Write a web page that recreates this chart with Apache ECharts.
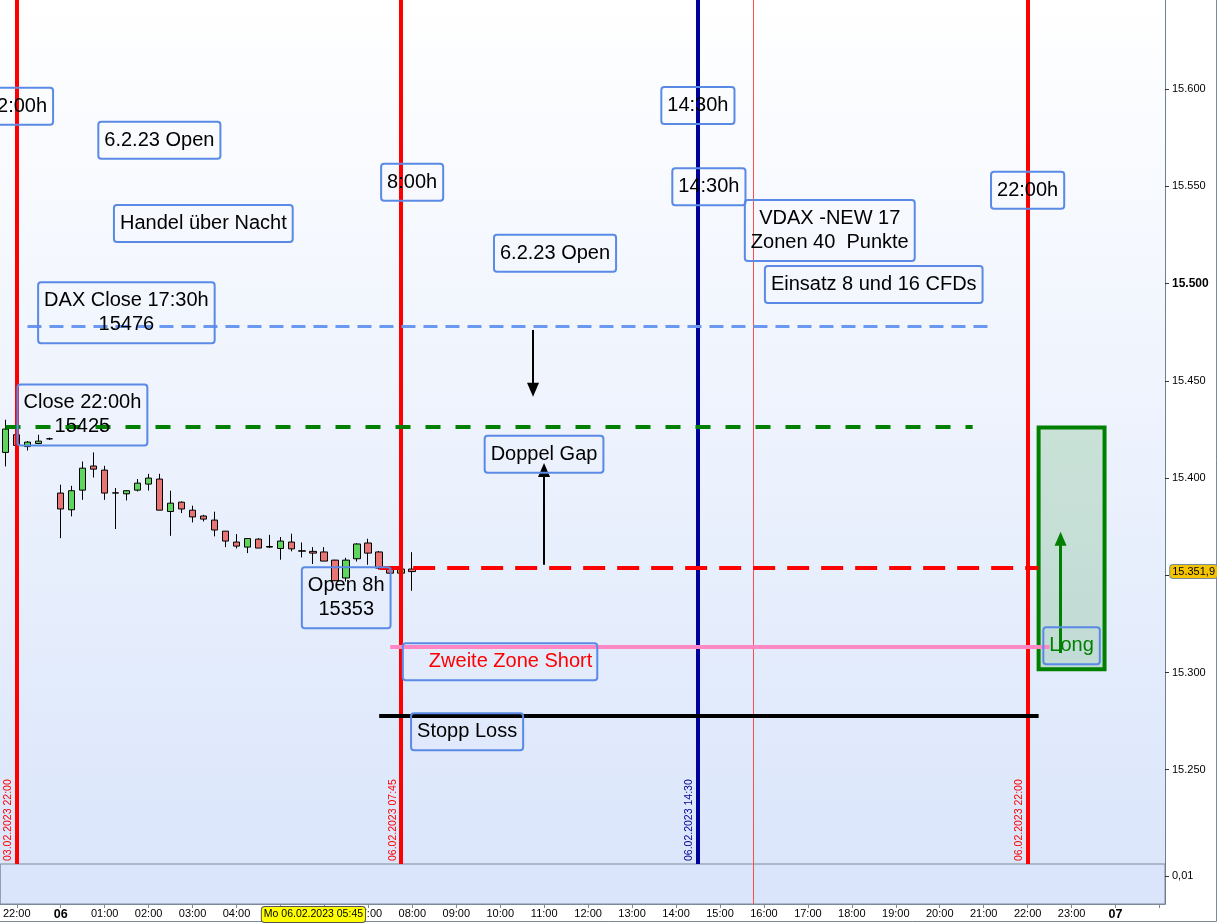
<!DOCTYPE html>
<html>
<head>
<meta charset="utf-8">
<script src="https://cdn.jsdelivr.net/npm/echarts@6/dist/echarts.min.js"></script>
<style>
html, body { margin: 0; padding: 0; background: #fff; }
#chart { width: 1217px; height: 923px; }
</style>
</head>
<body>
<div id="chart"></div>
<script>
// 15-minute slots: Friday evening, all of Monday, start of Tuesday
var slots = [];
['21:45', '22:00', '22:15', '22:30', '22:45'].forEach(function (t) { slots.push('Fr ' + t); });
for (var h = 0; h < 24; h++) {
    ['00', '15', '30', '45'].forEach(function (m) { slots.push('Mo ' + (h < 10 ? '0' + h : h) + ':' + m); });
}
['00:00', '00:15', '00:30', '00:45', '01:00'].forEach(function (t) { slots.push('Di ' + t); });

// DAX 15-minute candles, Fr 21:45 .. Mo 08:00
var opens  = [15413.2, 15422.3, 15416.2, 15417.8, 15420.2, 15392.3, 15383.7, 15393.8, 15406.2, 15404.1,
              15392.4, 15391.9, 15393.8, 15396.9, 15399.5, 15382.8, 15387.6, 15383.5, 15380.5, 15378.4,
              15372.7, 15367.1, 15364.5, 15368.6, 15364.8, 15363.8, 15367.1, 15362.6, 15362.3, 15362.0,
              15357.8, 15348.6, 15358.5, 15366.6, 15362.0, 15353.7, 15351.1, 15353.2];
var closes = [15425.2, 15416.8, 15418.5, 15419.0, 15420.2, 15384.1, 15393.5, 15405.1, 15404.6, 15392.3,
              15392.3, 15393.5, 15397.4, 15400.0, 15383.5, 15387.1, 15384.1, 15380.0, 15378.9, 15373.3,
              15367.6, 15365.0, 15368.9, 15364.0, 15364.5, 15367.6, 15363.6, 15362.4, 15361.4, 15357.3,
              15347.2, 15357.8, 15366.1, 15361.4, 15353.7, 15351.1, 15353.2, 15351.9];
var lows   = [15406.0, 15416.0, 15414.2, 15417.5, 15419.6, 15369.1, 15380.3, 15388.8, 15400.3, 15388.8,
              15373.8, 15388.5, 15393.1, 15393.6, 15383.5, 15370.3, 15382.0, 15377.2, 15377.7, 15370.0,
              15364.5, 15363.8, 15361.4, 15364.0, 15364.0, 15358.0, 15362.3, 15359.2, 15355.8, 15357.3,
              15347.0, 15346.8, 15357.1, 15355.4, 15353.0, 15350.8, 15350.8, 15342.0];
var highs  = [15430.0, 15423.0, 15419.0, 15422.3, 15420.8, 15396.6, 15396.0, 15408.5, 15413.2, 15406.3,
              15394.9, 15393.7, 15399.5, 15402.2, 15402.2, 15393.5, 15388.0, 15385.8, 15381.1, 15382.7,
              15372.7, 15371.2, 15369.0, 15369.1, 15370.8, 15369.7, 15371.4, 15366.9, 15364.5, 15364.5,
              15358.0, 15359.0, 15366.5, 15368.8, 15362.5, 15354.0, 15353.5, 15361.9];

var lastPrice = 15351.9;
var crossTime = 'Mo 05:45';

// vertical time markers
var timeLines = [
    { at: 'Fr 22:00', text: '03.02.2023 22:00', color: '#ff0000' },
    { at: 'Mo 07:45', text: '06.02.2023 07:45', color: '#ff0000' },
    { at: 'Mo 14:30', text: '06.02.2023 14:30', color: '#00009c' },
    { at: 'Mo 22:00', text: '06.02.2023 22:00', color: '#ff0000' }
];
var thinLineAt = 'Mo 15:45';

// horizontal levels
var levels = [
    { from: 'Fr 22:15', to: 'Mo 21:15', value: 15478, color: '#6a97f0', type: [14, 8], width: 3 },
    { from: 'Fr 21:45', to: 'Mo 20:45', value: 15426.2, color: '#008000', type: [15, 15], width: 4 },
    { from: 'Mo 07:15', to: 'Mo 22:15', value: 15353.7, color: '#ff0000', type: [22, 12], width: 4 },
    { from: 'Mo 07:30', to: 'Mo 22:30', value: 15313.1, color: '#ff88c4', type: 'solid', width: 4 },
    { from: 'Mo 07:15', to: 'Mo 22:15', value: 15277.9, color: '#000000', type: 'solid', width: 4 }
];

// arrows
var arrows = [
    { at: 'Mo 10:45', from: 15476.2, to: 15445.4, color: '#000', width: 2 },
    { at: 'Mo 11:00', from: 15355.4, to: 15404.2, color: '#000', width: 2 },
    { at: 'Mo 22:45', from: 15310.0, to: 15368.8, color: '#008000', width: 3 }
];

var longZone = { from: 'Mo 22:15', to: 'Mo 23:45', top: 15426, bottom: 15301.7 };

// text notes
var notes = [
    { text: '22:00h', at: 'Fr 22:00', value: 15591.2 },
    { text: '6.2.23 Open', at: 'Mo 02:15', value: 15573.7 },
    { text: '8:00h', at: 'Mo 08:00', value: 15552.1 },
    { text: 'Handel über Nacht', at: 'Mo 03:15', value: 15531.0 },
    { text: 'DAX Close 17:30h\n15476', at: 'Mo 01:30', value: 15485.0 },
    { text: 'Close 22:00h\n15425', at: 'Mo 00:30', value: 15432.5 },
    { text: '6.2.23 Open', at: 'Mo 11:15', value: 15515.6 },
    { text: '14:30h', at: 'Mo 14:30', value: 15591.7 },
    { text: '14:30h', at: 'Mo 14:45', value: 15549.8 },
    { text: 'VDAX -NEW 17\nZonen 40  Punkte', at: 'Mo 17:30', value: 15527.4 },
    { text: 'Einsatz 8 und 16 CFDs', at: 'Mo 18:30', value: 15499.6 },
    { text: '22:00h', at: 'Mo 22:00', value: 15548.0 },
    { text: 'Doppel Gap', at: 'Mo 11:00', value: 15412.2 },
    { text: 'Open 8h\n15353', at: 'Mo 06:30', value: 15338.5 },
    { text: 'Zweite Zone Short', at: 'Mo 10:00', value: 15305.5, color: '#ff0000', pad: [7, 5, 6, 26] },
    { text: 'Stopp Loss', at: 'Mo 09:15', value: 15269.5 },
    { text: 'Long', at: 'Mo 23:00', value: 15313.8, color: '#008000' }
];

var candleData = opens.map(function (o, i) { return [o, closes[i], lows[i], highs[i]]; });

function deNum(v) {
    var k = Math.floor(v / 1000);
    var r = Math.round(v - k * 1000);
    return k + '.' + ('00' + r).slice(-3);
}

var markLines = [];
timeLines.forEach(function (t) {
    markLines.push({
        xAxis: t.at,
        lineStyle: { color: t.color, width: 4, type: 'solid' },
        label: {
            show: true, formatter: t.text, position: 'insideStartTop', distance: 3,
            color: t.color, fontSize: 10.5, fontFamily: 'Liberation Sans'
        }
    });
});
markLines.push({ xAxis: thinLineAt, lineStyle: { color: '#ff4d4d', width: 1, type: 'solid' }, label: { show: false } });
levels.forEach(function (l) {
    markLines.push([
        { coord: [l.from, l.value], lineStyle: { color: l.color, width: l.width, type: l.type }, label: { show: false } },
        { coord: [l.to, l.value] }
    ]);
});
arrows.forEach(function (a) {
    markLines.push([
        { coord: [a.at, a.from], symbol: 'none', lineStyle: { color: a.color, width: a.width, type: 'solid' }, label: { show: false } },
        { coord: [a.at, a.to], symbol: 'triangle', symbolSize: [12, 14], itemStyle: { color: a.color } }
    ]);
});

var chart = echarts.init(document.getElementById('chart'));

chart.setOption({
    animation: false,
    graphic: [{
        type: 'polyline', silent: true, z: -1,
        shape: { points: [[1216.5, 0], [1216.5, 921.5], [0, 921.5]] },
        style: { fill: 'none', stroke: '#7a8a99', lineWidth: 1 }
    }],
    grid: [
        {
            left: 0, right: 52, top: 0, height: 864,
            show: true, borderWidth: 0,
            backgroundColor: new echarts.graphic.LinearGradient(0, 0, 0, 1, [
                { offset: 0, color: '#ffffff' },
                { offset: 1, color: '#dbe6fb' }
            ])
        },
        {
            left: 0, right: 52, top: 864, height: 40,
            show: true, borderWidth: 1, borderColor: '#7a8a99', backgroundColor: '#dae5fb'
        }
    ],
    xAxis: [
        {
            type: 'category', data: slots, gridIndex: 0, boundaryGap: true,
            axisLine: { show: false }, axisTick: { show: false }, axisLabel: { show: false }
        },
        {
            type: 'category', data: slots, gridIndex: 1, boundaryGap: true,
            axisLine: { show: true, lineStyle: { color: '#7a8a99' } },
            axisTick: {
                show: true, length: 4, alignWithLabel: true, lineStyle: { color: '#7a8a99' },
                interval: function (i, v) { return /:00$/.test(v); }
            },
            axisLabel: {
                show: true, margin: 4, fontSize: 11, fontFamily: 'Liberation Sans', color: '#000',
                interval: function (i, v) { return /:00$/.test(v) && v.indexOf('Di 01') !== 0; },
                formatter: function (v) {
                    if (v === 'Mo 00:00') return '{b|06}';
                    if (v === 'Di 00:00') return '{b|07}';
                    return v.slice(3);
                },
                rich: { b: { fontWeight: 'bold', fontSize: 12.5, fontFamily: 'Liberation Sans' } }
            },
            axisPointer: {
                show: true, status: 'show', value: crossTime, triggerTooltip: false,
                lineStyle: { opacity: 0 },
                label: {
                    show: true, formatter: 'Mo 06.02.2023 05:45', backgroundColor: '#ffff00',
                    borderColor: '#555', borderWidth: 1, color: '#000', padding: [2, 2],
                    fontSize: 10.5, fontFamily: 'Liberation Sans', margin: 3
                }
            }
        }
    ],
    yAxis: [
        {
            type: 'value', gridIndex: 0, position: 'right', min: 15201.5, max: 15645.9, splitNumber: 9,
            splitLine: { show: false },
            axisLine: { show: true, lineStyle: { color: '#6e8090' } },
            axisTick: { show: true, length: 4, lineStyle: { color: '#333' } },
            axisLabel: {
                margin: 7, fontSize: 11, fontFamily: 'Liberation Sans', color: '#000',
                showMinLabel: false, showMaxLabel: false,
                formatter: function (v) { return v === 15500 ? '{b|' + deNum(v) + '}' : deNum(v); },
                rich: { b: { fontWeight: 'bold', fontSize: 12, fontFamily: 'Liberation Sans' } }
            },
            axisPointer: {
                show: true, status: 'show', value: lastPrice, triggerTooltip: false,
                lineStyle: { opacity: 0 },
                label: {
                    show: true, formatter: '15.351,9', backgroundColor: '#f5c400',
                    borderColor: '#7a8a99', borderWidth: 1, color: '#000', padding: [1, 2],
                    fontSize: 11, fontFamily: 'Liberation Sans', margin: 6
                }
            }
        },
        {
            type: 'value', gridIndex: 1, position: 'right', min: 0, max: 0.0143, interval: 0.01,
            splitLine: { show: false },
            axisLine: { show: true, lineStyle: { color: '#6e8090' } },
            axisTick: { show: true, length: 4, lineStyle: { color: '#333' } },
            axisLabel: {
                margin: 7, fontSize: 11, fontFamily: 'Liberation Sans', color: '#000',
                showMinLabel: false, showMaxLabel: false,
                formatter: function (v) { return Math.abs(v - 0.01) < 1e-9 ? '0,01' : ''; }
            }
        }
    ],
    series: [
        {
            type: 'candlestick', xAxisIndex: 0, yAxisIndex: 0, data: candleData, barWidth: 7,
            itemStyle: {
                color: '#5ed65e', color0: '#e87474',
                borderColor: '#000', borderColor0: '#000', borderWidth: 1
            },
            markLine: { silent: true, symbol: 'none', precision: 2, z: 5, data: markLines },
            markArea: {
                silent: true,
                itemStyle: { color: 'rgba(0,128,0,0.15)', borderColor: '#008000', borderWidth: 4 },
                data: [[
                    { coord: [longZone.from, longZone.top] },
                    { coord: [longZone.to, longZone.bottom] }
                ]]
            },
            markPoint: {
                silent: true, z: 6,
                symbol: 'circle', symbolSize: 1, itemStyle: { color: 'rgba(0,0,0,0)' },
                data: notes.map(function (n) {
                    return {
                        coord: [n.at, n.value],
                        label: {
                            show: true, position: 'inside', formatter: n.text,
                            color: n.color || '#000', fontSize: 20, lineHeight: 24,
                            fontFamily: 'Liberation Sans', align: 'center',
                            borderColor: '#5a8ae6', borderWidth: 1, borderRadius: 3,
                            padding: n.pad || [7, 6, 6, 6], backgroundColor: 'rgba(0,0,0,0)'
                        }
                    };
                })
            }
        },
        {
            type: 'line', xAxisIndex: 1, yAxisIndex: 1, data: [],
            markLine: {
                silent: true, symbol: 'none',
                data: [{ xAxis: thinLineAt, lineStyle: { color: '#ff4d4d', width: 1, type: 'solid' }, label: { show: false } }]
            }
        }
    ]
});
</script>
</body>
</html>
